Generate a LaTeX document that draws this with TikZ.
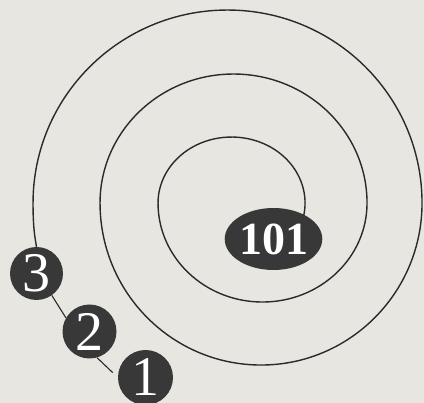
\documentclass[tikz,border=0pt]{standalone}
\usepackage{fontspec}
\setmainfont{Liberation Serif}
\pgfdeclarelayer{bg}
\pgfdeclarelayer{lines}
\pgfsetlayers{bg,lines,main}
\definecolor{paper}{HTML}{E8E6E1}
\definecolor{ink}{HTML}{2A2A2A}
\definecolor{disc}{HTML}{383838}
\tikzset{
  spiral/.style={draw=ink, line width=1.4pt},
  link/.style={draw=ink, line width=1.1pt},
  numdisc/.style={circle, fill=disc, text=white, inner sep=0pt, minimum size=54pt,
    font=\fontsize{56}{56}\selectfont},
  topdisc/.style={ellipse, fill=disc, text=white, inner sep=0pt, minimum width=87pt,
    minimum height=62pt, font=\fontsize{46}{46}\selectfont\bfseries}
}
\usetikzlibrary{shapes.geometric}
\begin{document}
\begin{tikzpicture}[x=1pt, y=-1pt]
\useasboundingbox (0,0) rectangle (424,403);
\begin{pgfonlayer}{bg}
\fill[paper] (0,0) rectangle (424,403);
\end{pgfonlayer}
\node[topdisc] (n101) at (273.5,239) {101};
\node[numdisc, minimum size=53pt] (n3) at (36.5,273.5) {3};
\node[numdisc] (n2) at (89.5,331.5) {2};
\node[numdisc, minimum size=55pt] (n1) at (145.5,377.5) {1};
\begin{pgfonlayer}{lines}
\draw[spiral] (n101.center) -- (300.6,225.6)
  arc[start angle=20, end angle=-180, x radius=73.5, y radius=66]
  arc[start angle=180, end angle=0, x radius=104.5, y radius=99]
  arc[start angle=0, end angle=-180, x radius=133.5, y radius=129]
  arc[start angle=180, end angle=0, x radius=161, y radius=162]
  arc[start angle=0, end angle=-180, x radius=194.5, y radius=193]
  .. controls (33,228) and (35,238) .. (n3.north);
\draw[link] (n3.-55) -- (n2.150);
\draw[link, shorten >=7pt] (n2.-74) -- (n1.west);
\end{pgfonlayer}
\end{tikzpicture}
\end{document}
